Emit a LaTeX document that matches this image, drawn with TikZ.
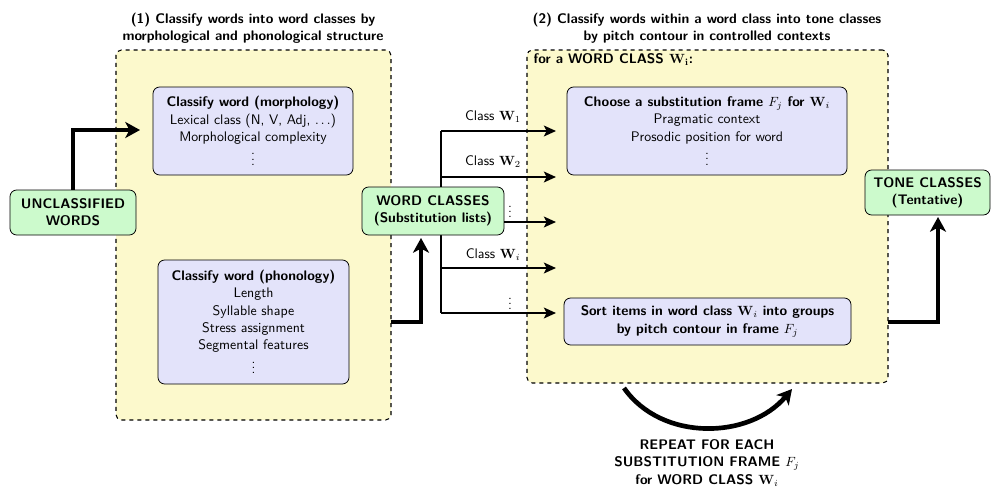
\documentclass[tikz,border=0pt]{standalone}
\usepackage{amsmath}
\usepackage{amssymb}
\usetikzlibrary{arrows.meta}
\definecolor{stagefill}{RGB}{252,249,204}
\definecolor{stepfill}{RGB}{227,227,250}
\definecolor{datafill}{RGB}{204,250,204}

\begin{document}
\begin{tikzpicture}[x=0.75pt,y=-0.75pt,font=\sffamily\fontsize{10.4}{13}\selectfont,
  stage/.style={draw,dashed,thick,rounded corners=4pt,fill=stagefill},
  stepbox/.style={draw,semithick,rounded corners=5pt,fill=stepfill,align=center,inner sep=2pt},
  databox/.style={draw,semithick,rounded corners=5pt,fill=datafill,align=center,inner sep=2pt,
    font=\sffamily\bfseries\fontsize{10.4}{13}\selectfont},
  title/.style={align=center,font=\sffamily\bfseries\fontsize{10.4}{13}\selectfont},
  bigarrow/.style={line width=3.5pt,-{Stealth[length=11pt,width=12pt,inset=3pt]}},
  branch/.style={line width=2pt,-{Stealth[length=9pt,width=8pt,inset=2pt]}}]
\def\u{0.75pt}
\useasboundingbox (0,0) rectangle (992,489);

% the two stages
\node[title] (t1) at (253,28) {(1) Classify words into word classes by\\morphological and phonological structure};
\node[title] (t2) at (707,28) {(2) Classify words within a word class into tone classes\\by pitch contour in controlled contexts};
\node[stage,minimum width=275*\u,minimum height=370*\u] (s1) at (253.5,235) {};
\node[stage,minimum width=361*\u,minimum height=333*\u] (s2) at (707.5,216.5) {};
\node[anchor=west,font=\sffamily\bfseries\fontsize{10.4}{13}\selectfont] (s2lbl) at (529,60) {for a WORD CLASS $\mathbf{W_i}$:};

% stage 1
\node[stepbox,minimum width=200*\u,minimum height=88*\u] (morph) at (253,131)
  {\textbf{Classify word (morphology)}\\Lexical class (N, V, Adj, $\ldots$)\\Morphological complexity\\$\vdots$};
\node[stepbox,minimum width=191*\u,minimum height=124*\u] (phon) at (253.5,322)
  {\textbf{Classify word (phonology)}\\Length\\Syllable shape\\Stress assignment\\Segmental features\\$\vdots$};
\node[databox,minimum width=126*\u,minimum height=45*\u] (words) at (73,212.5) {UNCLASSIFIED\\WORDS};

\coordinate (in1) at (140,130);
\coordinate (out1) at (391,322);
\coordinate (wcin) at (421,238);
\draw[bigarrow] (words.north) |- (in1);
\draw[bigarrow] (out1) -| (wcin);

% branches to stage 2
\coordinate (btop) at (441,131);
\coordinate (bbot) at (441,313);
\coordinate (c1) at (556,131);
\coordinate (c2) at (556,177);
\coordinate (c3) at (556,222);
\coordinate (c4) at (556,268);
\coordinate (c5) at (556,313);
\draw[line width=2pt] (btop) -- (bbot);
\draw[branch] (btop) -- (c1);
\draw[branch] (btop |- c2) -- (c2);
\draw[branch] (btop |- c4) -- (c4);
\draw[branch] (bbot) -- (c5);
\node[databox,minimum width=142*\u,minimum height=48*\u] (wc) at (433,211) {WORD CLASSES\\(Substitution lists)};
\draw[branch] (wc.east |- c3) -- (c3);
\node (l1) at (493,117) {Class $\mathbf{W}_1$};
\node (l2) at (493,162) {Class $\mathbf{W}_2$};
\node (l3) at (510,208) {$\vdots$};
\node (l4) at (493,255) {Class $\mathbf{W}_i$};
\node (l5) at (510,300) {$\vdots$};

% stage 2
\node[stepbox,minimum width=280*\u,minimum height=88*\u] (frame) at (707,131)
  {\textbf{Choose a substitution frame $F_j$ for $\mathbf{W}_i$}\\Pragmatic context\\Prosodic position for word\\$\vdots$};
\node[stepbox,minimum width=287*\u,minimum height=47*\u,font=\sffamily\bfseries\fontsize{10.4}{13}\selectfont] (sort) at (707.5,321.5)
  {Sort items in word class $\mathbf{W}_i$ into groups\\by pitch contour in frame $F_j$};
\node[databox,minimum width=125*\u,minimum height=45*\u] (tone) at (927.5,192.5) {TONE CLASSES\\(Tentative)};

\coordinate (out2) at (888,322);
\coordinate (tonein) at (938,217);
\draw[bigarrow] (out2) -| (tonein);

% repeat loop
\coordinate (r1) at (624,388);
\coordinate (r2) at (792,389);
\draw[bigarrow] (r1) to[out=-55,in=-130] (r2);
\node[title] (rep) at (707,463) {REPEAT FOR EACH\\SUBSTITUTION FRAME $F_j$\\for WORD CLASS $\mathbf{W}_i$};
\end{tikzpicture}
\end{document}
